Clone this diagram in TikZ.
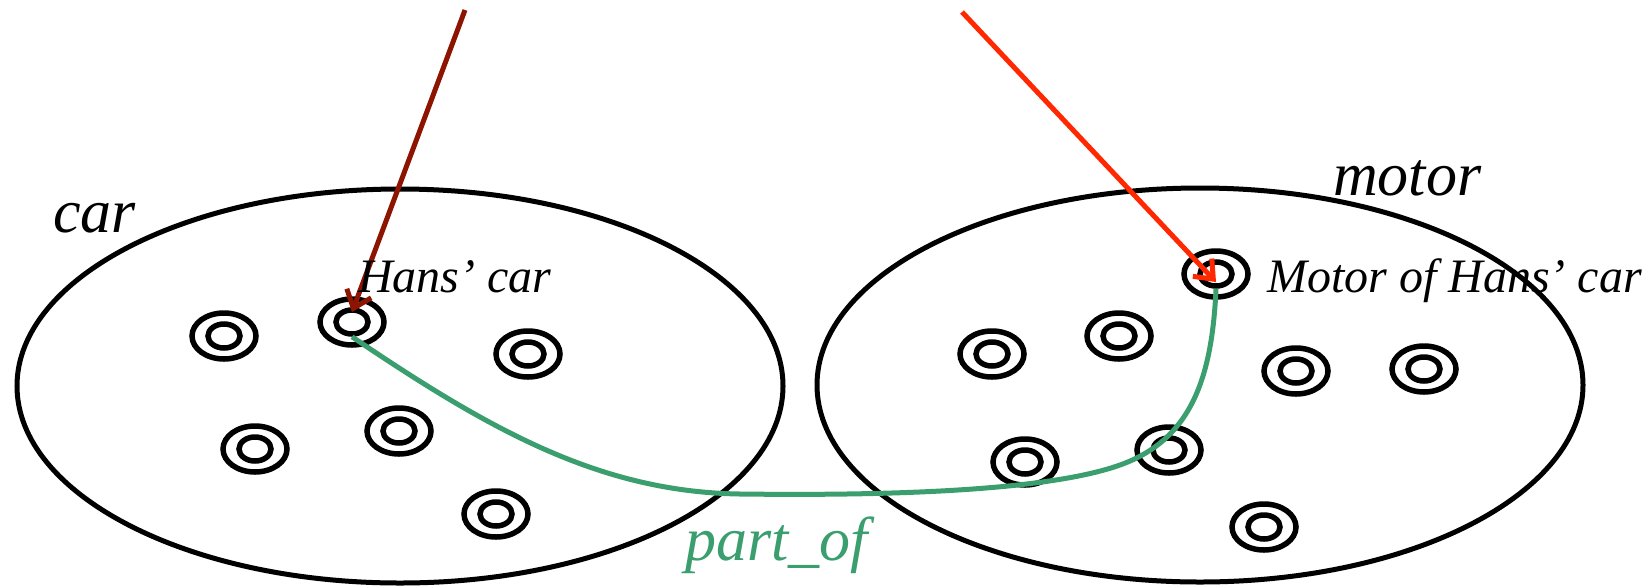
\documentclass[tikz,border=0pt]{standalone}
\usepackage{fontspec}
\setmainfont{Liberation Serif}
\usetikzlibrary{shapes.geometric,arrows.meta}

\definecolor{ptgreen}{RGB}{58,158,110}
\definecolor{instred}{RGB}{140,20,0}
\definecolor{clsred}{RGB}{255,40,0}

\begin{document}
\begin{tikzpicture}[x=1pt, y=-1pt,
  classset/.style={draw, ellipse, line width=5pt, minimum width=766pt, minimum height=394pt, inner sep=0pt},
  ringout/.style={draw, ellipse, line width=5.5pt, minimum width=64pt, minimum height=46pt, inner sep=0pt},
  ringin/.style={draw, ellipse, line width=5.5pt, minimum width=32pt, minimum height=24pt, inner sep=0pt},
  big/.style={font=\itshape\fontsize{62}{70}\selectfont, inner sep=0pt, anchor=base west},
  small/.style={font=\itshape\fontsize{48}{56}\selectfont, inner sep=0pt, anchor=base west},
  instof/.style={line width=5pt, -{Straight Barb[length=16pt,width=26pt]}},
  partof/.style={ptgreen, line width=5pt}
]
\useasboundingbox (0,0) rectangle (1648,587);

% the two classes
\node[classset] (carset) at (400,386) {};
\node[classset] (motorset) at (1200,385) {};

% instances
\foreach \p [count=\i] in {(224,336),(528,354),(255,449),(399,431),(496,514),
  (992,354),(1119,336),(1296,371),(1424,369),(1025,462),(1169,450),(1264,527)} {
  \node[ringout] (inst\i) at \p {};
  \node[ringin] (inst\i in) at \p {};
}
\node[ringout] (hans) at (352,322) {};
\node[ringin] (hansin) at (352,322) {};
\node[ringout] (motorcar) at (1216,274) {};
\node[ringin] (motorcarin) at (1216,274) {};

% part_of link
\draw[partof] (hansin.south) .. controls (490,430) and (600,492) .. (740,494)
  .. controls (900,496) and (1050,490) .. (1120,465)
  .. controls (1190,440) and (1212,380) .. (motorcarin.south);

% instance_of arrows
\coordinate (src1) at (465,10);
\coordinate (src2) at (962,12);
\draw[instof, instred] (src1) -- ([yshift=10pt]hans.center);
\draw[instof, clsred] (src2) -- ([yshift=-8pt]motorcar.center);

% labels
\node[big] (carlbl) at (53,232) {car};
\node[big] (motorlbl) at (1333,195) {motor};
\node[small] (hanslbl) at (358,292) {Hans’ car};
\node[small] (motorcarlbl) at (1267,292) {Motor of Hans’ car};
\node[big, text=ptgreen] (partlbl) at (685,560) {part\_of};
\end{tikzpicture}
\end{document}
